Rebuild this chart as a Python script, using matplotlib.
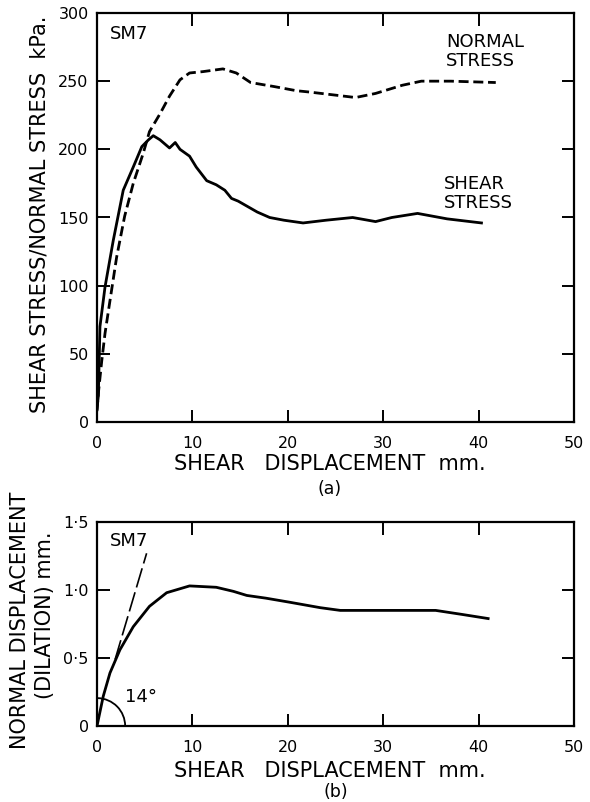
import matplotlib
matplotlib.use("Agg")
import matplotlib.pyplot as plt
from matplotlib.patches import Arc

plt.rcParams['font.family'] = ['DejaVu Sans']

# (a) shear / normal stress vs shear displacement
shear_x = [0.0, 0.14, 0.31, 0.84, 1.7, 2.75, 3.8, 4.7, 5.4, 5.9, 6.6, 7.6, 8.2, 8.7,
           9.7, 10.4, 11.5, 12.5, 13.4, 14.1, 14.8, 16.8, 18.1, 19.6, 21.6, 24.0,
           26.8, 29.2, 30.9, 33.6, 36.7, 40.3]
shear_y = [10, 19, 70, 99, 133, 170, 187, 202, 207, 210, 207, 201, 205, 200,
           195, 187, 177, 174, 170, 164, 162, 154, 150, 148, 146, 148,
           150, 147, 150, 153, 149, 146]

normal_x = [0.0, 0.14, 0.5, 0.84, 1.36, 2.06, 2.9, 3.8, 4.84, 5.5, 6.6, 7.6, 8.7,
            9.7, 11.1, 13.2, 14.6, 16.1, 18.6, 20.9, 22.3, 27.1, 29.2, 32.0, 34.0,
            37.1, 41.8]
normal_y = [8, 21, 45, 65, 89, 121, 151, 175, 197, 213, 226, 239, 251,
            256, 257, 259, 256, 249, 246, 243, 242, 238, 241, 247, 250,
            250, 249]

# (b) dilation vs shear displacement
dil_x = [0.0, 0.66, 1.36, 2.4, 3.8, 5.5, 7.3, 9.7, 12.5, 14.3, 15.7, 17.7, 20.2,
         23.4, 25.5, 29.3, 35.5, 38.3, 41.0]
dil_y = [0.0, 0.22, 0.39, 0.56, 0.73, 0.88, 0.98, 1.03, 1.02, 0.99, 0.96, 0.94, 0.91,
         0.87, 0.85, 0.85, 0.85, 0.82, 0.79]
tangent_x = [1.9, 5.2]
tangent_y = [0.49, 1.27]

x_ticks = [0, 10, 20, 30, 40, 50]
stress_ticks = [0, 50, 100, 150, 200, 250, 300]
dil_ticks = [0, 0.5, 1.0, 1.5]
dil_ticklabels = ['0', '0·5', '1·0', '1·5']

W, H = 590, 802
fig = plt.figure(figsize=(W / 100, H / 100), dpi=100)

def fx(px):
    return px / W

def fy(py):
    return 1 - py / H

lw = 2.0
tick_fs = 11.5
lab_fs = 15
txt_fs = 13

def style(ax):
    for s in ax.spines.values():
        s.set_linewidth(1.6)
    ax.tick_params(direction='in', length=9, width=1.4, top=True, right=True,
                   labelsize=tick_fs)
    ax.tick_params(axis='x', pad=10)
    ax.tick_params(axis='y', pad=6)

# top axes
ax1 = fig.add_axes([fx(97), fy(422), fx(574) - fx(97), fy(13) - fy(422)])
ax1.plot(shear_x, shear_y, color='black', lw=lw, solid_joinstyle='round')
ax1.plot(normal_x, normal_y, color='black', lw=lw, linestyle=(0, (3.6, 1.7)))
ax1.set_xlim(0, 50)
ax1.set_ylim(0, 300)
ax1.set_xticks(x_ticks)
ax1.set_yticks(stress_ticks)
style(ax1)
ax1.text(1.4, 291, 'SM7', fontsize=txt_fs, va='top', ha='left')
ax1.text(36.6, 285, 'NORMAL\nSTRESS', fontsize=txt_fs, va='top', ha='left', linespacing=1.05)
ax1.text(36.4, 181, 'SHEAR\nSTRESS', fontsize=txt_fs, va='top', ha='left', linespacing=1.05)

fig.text(fx(330), fy(464), 'SHEAR   DISPLACEMENT  mm.', fontsize=lab_fs, ha='center', va='center')
fig.text(fx(330), fy(489), '(a)', fontsize=12.5, ha='center', va='center')
fig.text(fx(40), fy(214), 'SHEAR STRESS/NORMAL STRESS  kPa.', fontsize=lab_fs,
         rotation=90, ha='center', va='center')

# bottom axes
ax2 = fig.add_axes([fx(97), fy(726), fx(574) - fx(97), fy(522) - fy(726)])
ax2.plot(dil_x, dil_y, color='black', lw=lw, solid_joinstyle='round')
ax2.plot(tangent_x, tangent_y, color='black', lw=1.2, linestyle=(0, (12, 3)))
ax2.add_patch(Arc((0, 0), 2 * 2.95, 2 * 0.205, theta1=0, theta2=70, color='black', lw=1.3))
ax2.set_xlim(0, 50)
ax2.set_ylim(0, 1.5)
ax2.set_xticks(x_ticks)
ax2.set_yticks(dil_ticks)
ax2.set_yticklabels(dil_ticklabels)
style(ax2)
ax2.text(1.4, 1.43, 'SM7', fontsize=txt_fs, va='top', ha='left')
ax2.text(2.9, 0.21, '14°', fontsize=txt_fs, va='center', ha='left')

fig.text(fx(330), fy(771), 'SHEAR   DISPLACEMENT  mm.', fontsize=lab_fs, ha='center', va='center')
fig.text(fx(336), fy(792), '(b)', fontsize=12.5, ha='center', va='center')
fig.text(fx(20), fy(620), 'NORMAL DISPLACEMENT', fontsize=lab_fs,
         rotation=90, ha='center', va='center')
fig.text(fx(45), fy(615), '(DILATION) mm.', fontsize=lab_fs,
         rotation=90, ha='center', va='center')

fig.savefig('out.png', dpi=100)
